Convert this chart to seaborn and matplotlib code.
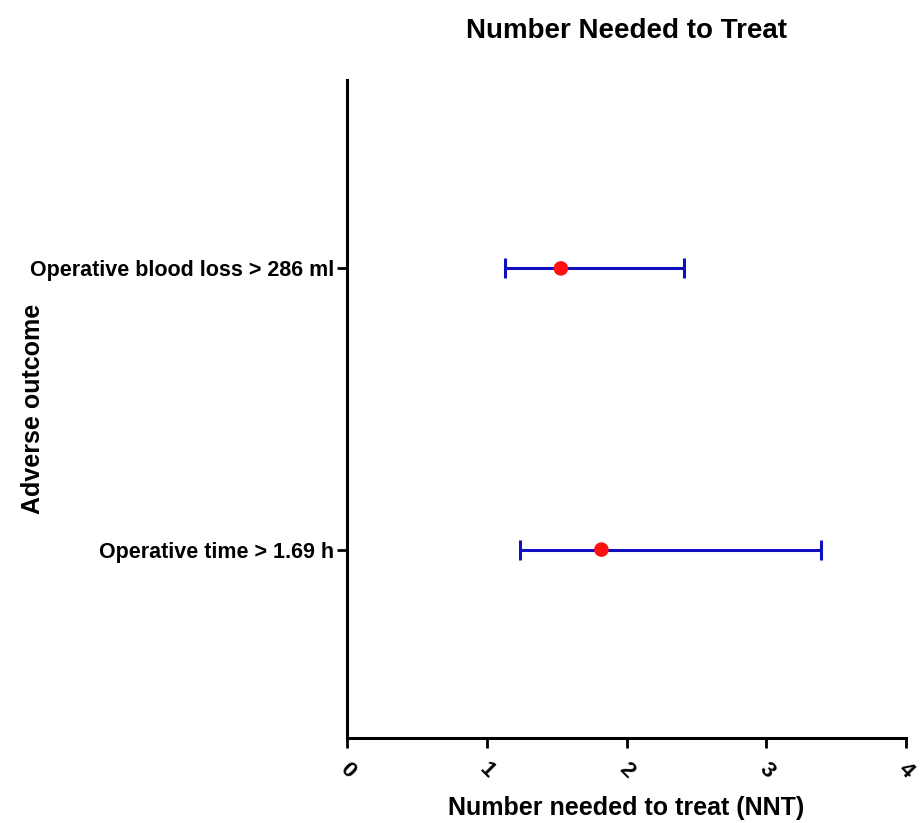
import pandas as pd
import matplotlib.pyplot as plt
import seaborn as sns

outcomes = ["Operative time > 1.69 h", "Operative blood loss > 286 ml"]
nnt = [1.82, 1.53]
ci_low = [1.24, 1.13]
ci_high = [3.39, 2.41]
x_ticks = [0, 1, 2, 3, 4]

df = pd.DataFrame({"outcome": outcomes, "nnt": nnt, "low": ci_low, "high": ci_high})

sns.set_style("ticks")
plt.rcParams["font.family"] = ["Liberation Sans Narrow", "Liberation Sans", "DejaVu Sans"]
plt.rcParams["font.weight"] = "bold"
plt.rcParams["text.color"] = "black"
plt.rcParams["axes.labelcolor"] = "black"
plt.rcParams["xtick.color"] = "black"
plt.rcParams["ytick.color"] = "black"
plt.rcParams["axes.edgecolor"] = "black"

fig = plt.figure(figsize=(9.21, 8.23), dpi=100)
ax = fig.add_axes([0.3768, 0.1033, 0.607, 0.7995])

ax.errorbar(df["nnt"], df["outcome"],
            xerr=[df["nnt"] - df["low"], df["high"] - df["nnt"]],
            fmt="none", ecolor="#1010c0", elinewidth=2.2, capsize=7, capthick=2.2, zorder=2)
sns.scatterplot(data=df, x="nnt", y="outcome", color="#ff1010", s=110,
                edgecolor="none", zorder=3, ax=ax)

ax.set_xlim(0, 4)
ax.set_ylim(-0.67, 1.67)
ax.set_xticks(x_ticks)
ax.set_xticklabels([str(t) for t in x_ticks], rotation=-45, ha="center", va="top")
ax.tick_params(axis="x", labelsize=16, width=2, length=7, pad=8)
ax.tick_params(axis="y", labelsize=15.5, width=2, length=7, pad=2)

for side in ["top", "right"]:
    ax.spines[side].set_visible(False)
for side in ["left", "bottom"]:
    ax.spines[side].set_linewidth(2.2)

ax.set_xlabel("Number needed to treat (NNT)", fontsize=18, fontweight="bold", labelpad=10)
ax.set_ylabel("Adverse outcome", fontsize=18, fontweight="bold")
ax.yaxis.set_label_coords(-0.54, 0.5)
ax.set_title("Number Needed to Treat", fontsize=20, fontweight="bold", pad=30)

fig.savefig("out.png", dpi=100)
